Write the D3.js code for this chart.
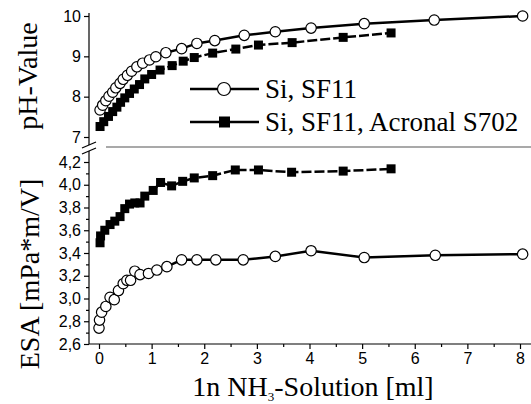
<!DOCTYPE html>
<html>
<head>
<meta charset="utf-8">
<script src="https://cdn.jsdelivr.net/npm/d3@7"></script>
<style>
  body { margin: 0; background: #fff; }
  .tick text { font-family: "Liberation Sans", Arial, sans-serif; font-size: 16px; fill: #000; }
  .title { font-family: "Liberation Serif", "Times New Roman", serif; font-size: 28px; fill: #000; }
</style>
</head>
<body>
<div id="chart"></div>
<script>
// pH panel, Si SF11 (open circles)
const phCircX = [0.02, 0.07, 0.13, 0.19, 0.26, 0.32, 0.40, 0.46, 0.54, 0.62, 0.72, 0.83, 0.96, 1.08, 1.27, 1.57, 1.86, 2.20, 2.76, 3.35, 4.03, 5.04, 6.37, 8.05];
const phCircY = [7.67, 7.79, 7.90, 8.01, 8.11, 8.22, 8.33, 8.43, 8.53, 8.63, 8.74, 8.83, 8.91, 8.99, 9.09, 9.19, 9.32, 9.39, 9.52, 9.61, 9.70, 9.81, 9.90, 10.0];
// pH panel, Si SF11 Acronal S702 (filled squares)
const phSqX = [0.02, 0.09, 0.18, 0.26, 0.34, 0.41, 0.49, 0.58, 0.67, 0.77, 0.87, 1.00, 1.16, 1.39, 1.60, 1.81, 2.16, 2.60, 3.03, 3.67, 4.64, 5.55];
const phSqY = [7.26, 7.38, 7.51, 7.63, 7.74, 7.86, 7.97, 8.08, 8.19, 8.30, 8.44, 8.55, 8.66, 8.77, 8.88, 8.97, 9.08, 9.18, 9.28, 9.34, 9.47, 9.58];
// ESA panel, open circles
const esaCircX = [0.00, 0.01, 0.05, 0.13, 0.21, 0.29, 0.37, 0.46, 0.53, 0.60, 0.68, 0.78, 0.94, 1.10, 1.29, 1.57, 1.86, 2.22, 2.74, 3.35, 4.03, 5.04, 6.39, 8.05];
const esaCircY = [2.74, 2.81, 2.88, 2.93, 3.01, 2.99, 3.07, 3.13, 3.16, 3.16, 3.24, 3.21, 3.22, 3.25, 3.28, 3.34, 3.34, 3.34, 3.34, 3.37, 3.42, 3.36, 3.38, 3.39];
// ESA panel, filled squares
const esaSqX = [0.02, 0.03, 0.11, 0.21, 0.30, 0.40, 0.49, 0.58, 0.68, 0.78, 0.87, 1.03, 1.17, 1.38, 1.59, 1.81, 2.16, 2.59, 3.03, 3.66, 4.64, 5.55];
const esaSqY = [3.49, 3.55, 3.60, 3.65, 3.68, 3.72, 3.79, 3.83, 3.84, 3.84, 3.90, 3.95, 4.02, 3.99, 4.03, 4.06, 4.08, 4.13, 4.13, 4.11, 4.12, 4.14];

const xTicks = [0, 1, 2, 3, 4, 5, 6, 7, 8];
const phTicks = [7, 8, 9, 10];
const esaTicks = [2.6, 2.8, 3.0, 3.2, 3.4, 3.6, 3.8, 4.0, 4.2];
const legendNames = ['Si, SF11', 'Si, SF11, Acronal S702'];

const W = 531, H = 404;
const axisX = 89;

const svg = d3.select('#chart').append('svg')
  .attr('width', W).attr('height', H);

const x = d3.scaleLinear().domain([0, 8]).range([99, 520]);
const yPh = d3.scaleLinear().domain([7, 10]).range([137, 16]);
const yEsa = d3.scaleLinear().domain([2.6, 4.2]).range([344, 162]);

const comma = d3.format('.1f');

// x axis (major + minor)
const xg = svg.append('g').attr('transform', 'translate(0,344)')
  .call(d3.axisBottom(x).tickValues(xTicks).tickSize(5).tickSizeOuter(0).tickPadding(4)
    .tickFormat(d3.format('d')));
xg.select('.domain').remove();
svg.append('g').attr('transform', 'translate(0,344)')
  .call(d3.axisBottom(x).tickValues(d3.range(0.5, 8, 1)).tickSize(3).tickFormat(''))
  .select('.domain').remove();
svg.append('line').attr('x1', axisX).attr('x2', W).attr('y1', 344).attr('y2', 344)
  .attr('stroke', '#000').attr('stroke-width', 1.2);

// pH axis
const pg = svg.append('g').attr('transform', `translate(${axisX},0)`)
  .call(d3.axisLeft(yPh).tickValues(phTicks).tickSize(5).tickPadding(3)
    .tickFormat(d3.format('d')));
pg.select('.domain').remove();

// ESA axis (major + minor)
const eg = svg.append('g').attr('transform', `translate(${axisX},0)`)
  .call(d3.axisLeft(yEsa).tickValues(esaTicks).tickSize(5).tickPadding(3)
    .tickFormat(d => comma(d).replace('.', ',')));
eg.select('.domain').remove();
svg.append('g').attr('transform', `translate(${axisX},0)`)
  .call(d3.axisLeft(yEsa).tickValues(d3.range(2.7, 4.2, 0.2)).tickSize(3).tickFormat(''))
  .select('.domain').remove();

svg.selectAll('.tick line').attr('stroke', '#000').attr('stroke-width', 1.2);

// axis lines with break
svg.append('line').attr('x1', axisX).attr('x2', axisX).attr('y1', 13).attr('y2', 145)
  .attr('stroke', '#000').attr('stroke-width', 1.2);
svg.append('line').attr('x1', axisX).attr('x2', axisX).attr('y1', 151).attr('y2', 344)
  .attr('stroke', '#000').attr('stroke-width', 1.2);
[0, 6].forEach(o => {
  svg.append('line').attr('x1', axisX - 7).attr('x2', axisX + 7)
    .attr('y1', 148 + o).attr('y2', 142 + o)
    .attr('stroke', '#000').attr('stroke-width', 1.2);
});
// separator between panels
svg.append('line').attr('x1', 106).attr('x2', W).attr('y1', 147).attr('y2', 147)
  .attr('stroke', '#555').attr('stroke-width', 1.2);

function drawSeries(xs, ys, yScale, type) {
  const pts = xs.map((v, i) => [x(v), yScale(ys[i])]);
  const line = svg.append('path').datum(pts)
    .attr('d', d3.line())
    .attr('fill', 'none').attr('stroke', '#000').attr('stroke-width', 2.5);
  if (type === 'sq') line.attr('stroke-dasharray', '10,3');
  if (type === 'sq') {
    svg.selectAll(null).data(pts).enter().append('rect')
      .attr('x', d => d[0] - 4.5).attr('y', d => d[1] - 4.5)
      .attr('width', 9).attr('height', 9).attr('fill', '#000');
  } else {
    svg.selectAll(null).data(pts).enter().append('circle')
      .attr('cx', d => d[0]).attr('cy', d => d[1]).attr('r', 5.2)
      .attr('fill', '#fff').attr('stroke', '#000').attr('stroke-width', 1.2);
  }
}

drawSeries(phSqX, phSqY, yPh, 'sq');
drawSeries(phCircX, phCircY, yPh, 'circ');
drawSeries(esaSqX, esaSqY, yEsa, 'sq');
drawSeries(esaCircX, esaCircY, yEsa, 'circ');

// legend
const legY = [89, 122];
legendNames.forEach((name, i) => {
  svg.append('line').attr('x1', 190).attr('x2', 259)
    .attr('y1', legY[i]).attr('y2', legY[i])
    .attr('stroke', '#000').attr('stroke-width', 2.5);
  if (i === 0) {
    svg.append('circle').attr('cx', 224).attr('cy', legY[i]).attr('r', 6.5)
      .attr('fill', '#fff').attr('stroke', '#000').attr('stroke-width', 1.2);
  } else {
    svg.append('rect').attr('x', 219).attr('y', legY[i] - 5.5)
      .attr('width', 11).attr('height', 11).attr('fill', '#000');
  }
  svg.append('text').attr('class', 'title')
    .attr('x', 265).attr('y', legY[i] + 9)
    .style('font-size', '27px')
    .text(name);
});

// axis titles
svg.append('text').attr('class', 'title')
  .attr('text-anchor', 'middle')
  .attr('transform', 'translate(37,76) rotate(-90)')
  .text('pH-Value');
svg.append('text').attr('class', 'title')
  .attr('text-anchor', 'middle')
  .attr('transform', 'translate(39,274) rotate(-90)')
  .text('ESA [mPa*m/V]');
const xt = svg.append('text').attr('class', 'title')
  .attr('text-anchor', 'middle')
  .attr('x', 313).attr('y', 396);
xt.append('tspan').text('1n NH');
xt.append('tspan').style('font-size', '13px').attr('dy', 5).text('3');
xt.append('tspan').attr('dy', -5).text('-Solution [ml]');
</script>
</body>
</html>
